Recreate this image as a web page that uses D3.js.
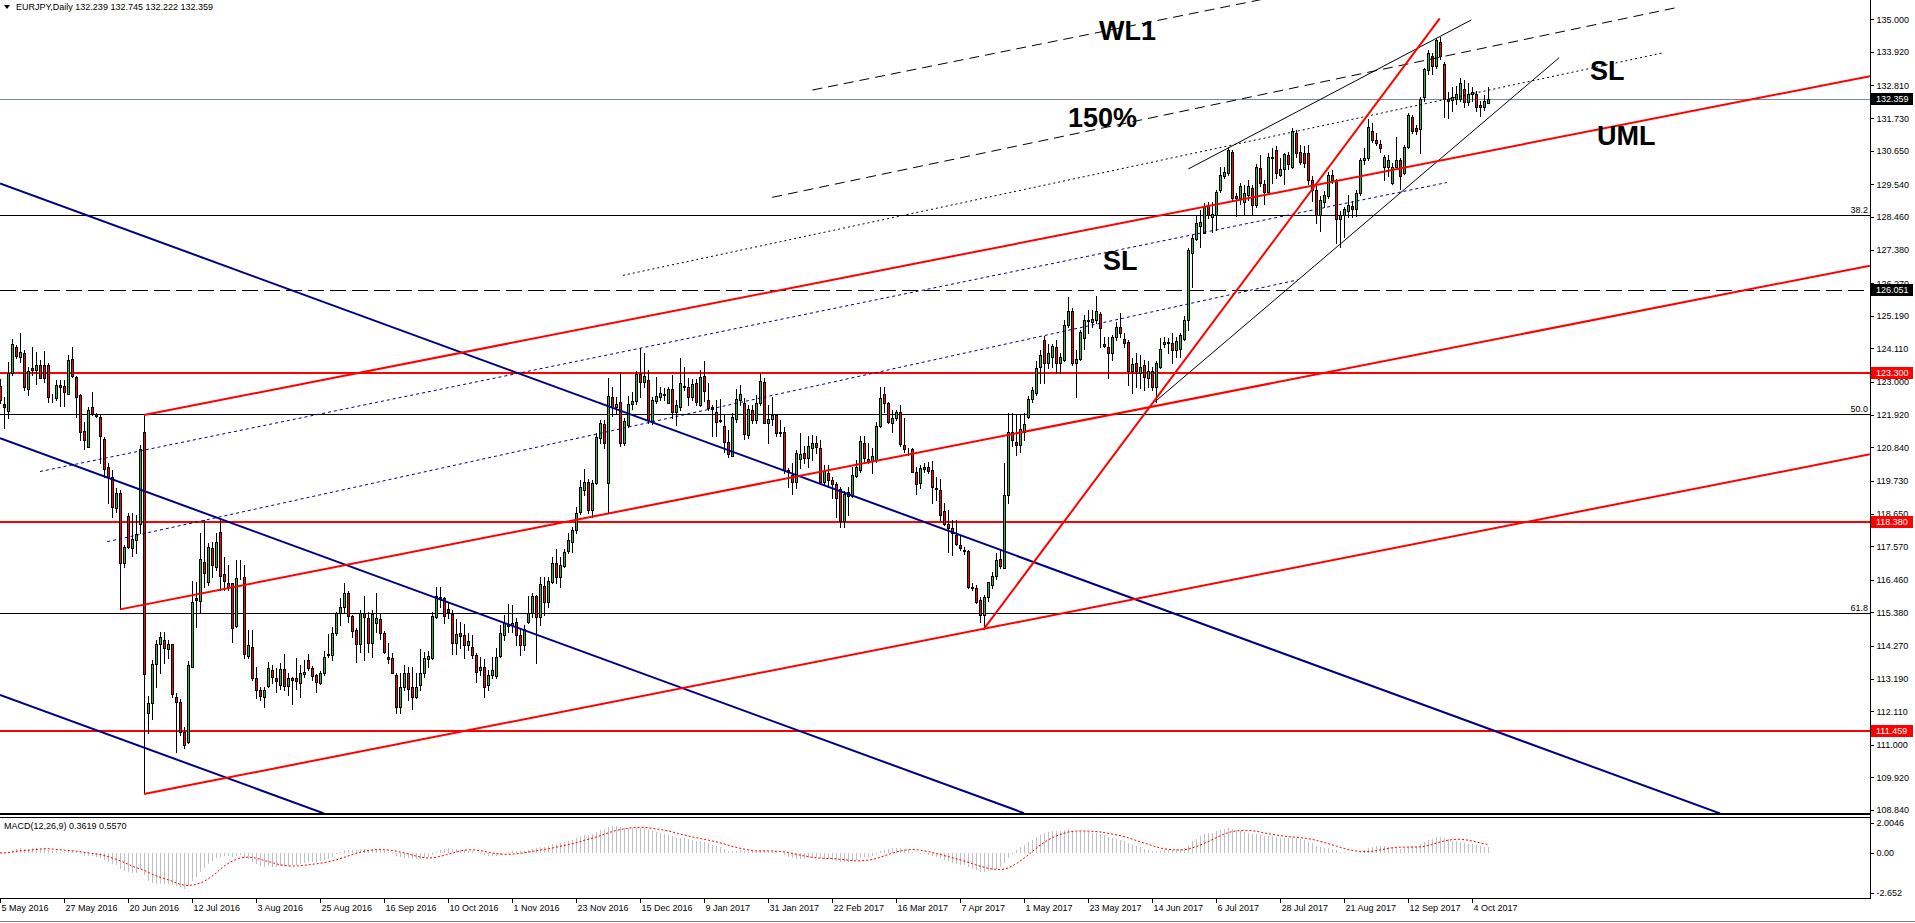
<!doctype html>
<html lang="en">
<head>
<meta charset="utf-8">
<title>EURJPY, Daily</title>
<style>
	body { margin: 0; background: #fff; }
	svg text { font-family: Tahoma, "Liberation Sans", Arial, sans-serif; font-size: 9px; fill: #000; }
	svg text.note { font-family: "Liberation Sans", Arial, sans-serif; font-size: 27px; font-weight: bold; }
	.tick line, .domain { stroke: #000; shape-rendering: crispEdges; }
	line { shape-rendering: crispEdges; }
	line.trend { shape-rendering: auto; }
	.wick { stroke: #000; }
	.body { stroke: #000; stroke-width: 1; shape-rendering: crispEdges; }
	.fib { stroke: #000; stroke-width: 1; }
	.redlvl { stroke: #ff0000; stroke-width: 2; }
	.last { stroke: #778899; stroke-width: 1; }
	.dashlvl { stroke: #000; stroke-width: 1; stroke-dasharray: 16,6; }
	.pf-red { stroke: #ff0000; stroke-width: 2; }
	.ch-blue { stroke: #000080; stroke-width: 2; }
	.dot-blue { stroke: #000080; stroke-width: 1; stroke-dasharray: 3,3; }
	.dash-black { stroke: #000; stroke-width: 1; stroke-dasharray: 10,6; }
	.dot-black { stroke: #000; stroke-width: 1; stroke-dasharray: 2,3; }
	.thin-black { stroke: #000; stroke-width: 1; }
	.steep-red { stroke: #ff0000; stroke-width: 2; }
</style>
</head>
<body>
<div id="viz"></div>

<script src="https://d3js.org/d3.v7.min.js"></script>
<script>

// daily bars, 5 May 2016 .. 10 Oct 2017, each row [open, high, low, close]
var ohlc = [
	// 0
	[122.87,123.10,122.30,122.40],[122.29,122.51,121.47,122.16],[122.05,123.67,121.80,123.29],[123.29,124.44,123.23,124.26],
	[124.17,124.22,123.78,123.86],[123.84,124.61,123.67,124.00],[123.97,124.06,122.74,122.85],[122.76,123.51,122.57,123.37],
	[123.45,124.17,123.23,123.40],[123.40,124.00,122.95,123.58],[123.58,123.73,123.12,123.15],[123.56,124.03,123.01,123.12],
	[123.56,123.64,122.35,122.51],[122.51,122.60,122.35,122.52],[122.46,123.07,122.40,122.90],[122.90,123.07,122.20,122.82],
	// 16
	[122.87,123.07,122.20,122.68],[122.62,123.89,122.60,123.73],[123.75,124.17,123.16,123.20],[123.16,123.20,121.85,122.51],
	[122.57,122.60,121.08,121.36],[121.38,121.69,120.80,121.08],[120.86,122.16,120.86,122.09],[122.16,122.68,121.91,121.94],
	[121.93,121.98,121.85,121.87],[121.85,121.91,120.31,121.21],[121.10,121.19,119.87,120.11],[120.20,120.31,118.99,119.87],
	[119.85,120.09,118.55,118.88],[118.82,119.48,118.71,119.34],[119.34,119.43,115.48,117.00],[117.00,117.61,116.89,117.53],
	// 32
	[118.58,118.66,117.50,117.55],[117.50,118.66,117.25,117.81],[117.77,118.60,117.33,117.96],[118.30,120.92,117.99,120.80],
	[121.34,121.92,109.43,113.34],[112.04,112.60,111.38,112.37],[112.37,113.80,111.87,113.66],[113.66,114.46,112.92,114.32],
	[114.32,114.74,113.36,114.57],[114.46,114.74,113.69,114.19],[114.16,114.46,113.86,114.32],[114.32,114.35,112.59,112.67],
	[112.59,112.70,110.77,112.43],[112.41,112.50,111.32,111.43],[111.43,111.60,110.88,110.99],[111.10,113.78,111.05,113.64],
	// 48
	[113.58,116.42,113.58,115.73],[115.85,116.40,114.90,115.80],[115.77,117.99,115.35,117.13],[117.06,118.43,116.23,116.67],
	[116.40,117.69,116.29,117.53],[117.50,117.72,116.56,116.95],[116.89,117.99,116.78,117.70],[118.03,118.43,116.12,116.58],
	[116.64,117.22,116.12,116.42],[116.34,116.95,116.12,116.23],[116.34,116.36,114.41,114.88],[114.93,117.11,114.90,116.53],
	[116.60,117.11,116.50,116.58],[116.56,116.95,113.86,113.99],[113.94,114.80,113.86,114.30],[114.25,114.80,113.15,113.20],
	// 64
	[113.20,113.58,112.54,112.81],[112.81,112.90,112.48,112.61],[112.59,112.92,112.26,112.81],[112.94,113.75,112.92,113.55],
	[113.47,113.64,113.03,113.25],[113.22,113.53,112.76,113.11],[112.98,113.69,112.85,113.50],[113.50,114.00,112.81,112.94],
	[112.94,113.36,112.65,113.20],[113.20,113.25,112.35,113.15],[113.20,113.86,112.85,113.10],[113.06,113.64,112.59,113.36],
	[113.34,113.80,113.25,113.42],[113.82,114.00,113.47,113.53],[113.53,113.60,113.15,113.28],[113.31,113.35,112.76,113.09],
	// 80
	[113.06,113.45,113.00,113.39],[113.39,114.11,113.30,113.92],[113.98,114.67,113.92,114.02],[113.97,114.91,113.80,114.69],
	[114.69,115.40,114.63,115.37],[115.35,115.84,114.96,115.55],[115.55,116.34,115.40,116.03],[116.03,116.10,115.07,115.27],
	[115.26,115.30,114.58,114.77],[114.80,114.85,113.75,114.33],[114.33,115.46,114.08,115.37],[115.35,115.92,113.80,115.24],
	[115.18,115.40,114.08,114.36],[114.38,115.46,113.89,115.33],[115.02,116.03,114.74,115.18],[115.15,115.37,114.49,114.71],
	// 96
	[114.71,114.75,114.03,114.08],[113.91,114.38,113.70,113.83],[113.86,114.03,113.36,113.39],[113.31,113.36,112.06,112.26],
	[112.26,113.36,112.06,112.92],[112.92,113.64,112.80,113.39],[113.36,113.58,112.48,112.83],[112.92,113.58,112.20,112.59],
	[112.59,113.36,112.54,112.90],[112.98,114.16,112.80,113.39],[113.36,114.08,113.25,113.86],[113.83,114.11,113.58,113.94],
	[113.86,115.40,113.83,115.27],[115.24,116.23,115.20,115.92],[115.90,116.23,115.57,115.85],[115.85,115.90,115.02,115.26],
	// 112
	[115.48,115.73,115.18,115.40],[115.33,115.46,114.00,114.38],[114.36,115.15,114.00,114.66],[114.69,115.07,114.19,114.60],
	[114.63,114.99,113.86,114.30],[114.30,114.69,114.14,114.44],[114.22,114.63,113.86,113.97],[113.97,114.03,113.09,113.42],
	[113.47,113.92,113.31,113.56],[113.58,113.83,112.59,112.92],[112.98,113.47,112.80,113.31],[113.31,113.92,113.20,113.47],
	[113.28,114.19,113.20,113.92],[113.94,114.96,113.91,114.69],[114.63,115.29,114.47,115.02],[115.00,115.66,114.74,114.93],
	// 128
	[114.96,115.62,114.74,115.02],[115.07,115.18,114.30,114.63],[114.63,114.85,113.97,114.30],[114.30,114.96,114.14,114.82],
	[115.07,115.92,115.02,115.35],[115.35,116.01,115.24,115.92],[115.92,115.95,113.70,115.24],[115.24,116.56,114.96,116.31],
	[116.25,116.56,115.29,115.73],[115.73,116.56,115.57,116.43],[116.40,117.20,116.34,117.03],[117.00,117.47,116.34,116.54],
	[116.54,117.20,116.23,116.95],[116.93,117.47,116.89,117.39],[117.42,117.99,117.36,117.77],[117.72,118.21,117.39,118.10],
	// 144
	[118.10,118.88,117.99,118.68],[118.71,119.76,118.63,119.52],[119.43,120.11,119.26,119.70],[119.70,119.78,118.66,118.76],
	[118.76,119.76,118.55,119.65],[119.65,121.30,119.62,121.19],[121.14,121.74,120.97,121.63],[121.61,121.74,120.81,120.97],
	[119.67,123.15,118.66,122.54],[122.49,122.85,121.88,122.16],[122.16,122.51,121.96,122.27],[122.35,123.34,120.88,120.99],
	[120.99,121.80,120.92,121.72],[121.58,122.54,121.52,122.29],[122.27,122.68,122.10,122.38],[122.38,123.37,122.29,123.26],
	// 160
	[123.26,124.11,122.49,123.01],[123.01,123.95,122.85,123.20],[123.07,123.40,121.64,121.75],[121.70,122.50,121.62,122.41],
	[122.38,123.16,122.30,122.54],[122.50,122.85,122.41,122.65],[122.58,122.80,122.41,122.59],[122.32,122.85,122.30,122.76],
	[122.76,123.24,121.80,122.02],[122.02,122.39,121.58,122.25],[122.17,123.79,122.06,122.98],[122.83,123.49,122.74,122.87],
	[122.83,123.13,122.25,122.50],[122.50,123.09,122.41,122.94],[122.96,123.09,122.25,122.35],[122.24,123.40,122.21,123.16],
	// 176
	[123.20,123.68,122.36,122.69],[122.39,122.96,122.08,122.13],[122.17,122.25,121.22,122.11],[122.02,122.41,121.20,121.69],
	[121.75,122.43,121.69,121.72],[121.55,121.95,120.70,121.01],[121.01,121.42,120.53,120.63],[120.57,121.97,120.57,121.84],
	[121.77,122.76,121.69,122.43],[122.41,122.90,122.24,122.61],[122.32,122.46,121.12,121.28],[121.25,122.24,121.14,122.11],
	[122.06,122.24,121.64,121.75],[121.75,122.57,121.64,122.30],[122.30,123.29,122.24,123.05],[122.99,123.13,121.64,121.66],
	// 192
	[121.64,122.24,120.98,121.77],[121.78,122.52,121.58,121.91],[121.91,121.95,121.20,121.31],[121.36,121.75,121.20,121.33],
	[121.36,121.50,120.00,120.10],[120.10,120.15,119.54,120.04],[119.93,120.32,119.30,119.71],[119.68,120.76,119.49,120.65],
	[120.45,121.31,120.15,120.63],[120.65,120.87,120.32,120.48],[120.48,121.22,120.18,120.87],[120.81,121.25,120.42,121.00],
	[121.00,121.20,120.65,120.85],[120.81,121.09,119.63,119.71],[119.68,120.26,119.60,120.06],[119.98,120.26,119.54,119.76],
	// 208
	[119.76,119.87,119.16,119.63],[119.63,119.68,118.55,119.16],[119.45,119.54,118.20,118.39],[118.39,119.38,118.22,119.30],
	[119.35,119.54,118.61,119.24],[119.24,120.20,119.21,119.93],[119.90,120.42,119.87,120.18],[120.10,121.20,120.04,121.06],
	[121.00,121.20,120.37,120.48],[120.45,121.00,120.32,120.40],[120.40,120.81,119.98,120.56],[120.43,121.69,120.37,121.55],
	[121.53,122.83,121.51,122.47],[122.61,122.85,122.02,122.32],[122.32,122.35,121.64,121.69],[121.66,122.08,121.36,121.80],
	// 224
	[121.80,122.08,121.75,122.02],[122.02,122.24,120.87,120.95],[120.92,121.80,120.70,120.78],[120.78,120.82,120.59,120.79],
	[120.78,120.81,120.04,120.04],[120.04,120.20,119.30,119.63],[119.65,120.26,119.49,120.15],[120.12,120.32,120.04,120.18],
	[120.20,120.34,119.98,120.07],[120.09,120.40,118.99,119.52],[119.49,119.87,119.10,119.46],[119.43,119.79,118.44,118.60],
	[118.75,118.99,118.27,118.31],[118.31,118.77,117.39,118.17],[118.17,118.44,117.28,118.00],[117.94,118.44,117.60,117.65],
	// 240
	[117.62,117.94,117.45,117.50],[117.45,117.55,117.30,117.40],[117.40,117.45,116.18,116.21],[116.23,116.35,116.12,116.20],
	[116.20,116.30,115.70,115.74],[115.80,115.90,115.05,115.30],[115.30,115.95,114.82,115.88],[115.88,116.40,115.75,116.37],
	[116.29,116.73,116.20,116.59],[116.59,117.34,116.49,117.12],[117.14,117.45,116.85,116.92],[116.84,120.31,116.84,119.27],
	[119.27,121.97,118.99,121.36],[121.36,121.97,120.87,121.08],[121.03,121.91,120.59,120.92],[120.92,121.91,120.70,121.44],
	// 256
	[121.36,121.97,121.08,121.61],[121.86,122.55,121.80,122.43],[122.43,122.85,122.35,122.74],[122.65,123.68,122.57,123.46],
	[123.51,124.06,122.96,123.90],[124.39,124.53,122.96,123.62],[123.64,124.26,123.46,123.97],[123.82,124.26,123.51,124.20],
	[124.17,124.39,123.29,123.64],[123.64,123.97,123.29,123.84],[123.73,125.06,123.68,124.89],[124.89,125.80,124.83,125.36],
	[125.36,125.44,123.57,123.62],[123.62,124.06,122.52,123.75],[123.75,124.72,123.73,124.66],[124.45,125.22,124.08,125.06],
	// 272
	[125.06,125.39,124.61,125.02],[125.00,125.39,124.83,125.08],[125.06,125.83,124.94,125.35],[125.25,125.33,124.15,124.78],
	[124.25,124.50,124.15,124.19],[124.17,124.50,123.13,123.95],[123.97,124.56,123.73,124.50],[124.50,125.00,124.39,124.83],
	[124.83,125.28,124.50,124.61],[124.41,124.61,124.17,124.30],[124.34,124.39,122.90,123.38],[123.38,123.79,122.63,123.60],
	[123.64,123.95,122.85,123.38],[123.31,123.90,122.79,123.49],[123.57,123.73,122.74,123.18],[123.13,123.68,122.85,123.35],
	// 288
	[123.35,123.51,122.74,122.85],[122.85,123.68,122.35,123.62],[123.51,124.45,123.46,124.08],[124.26,124.50,124.17,124.34],
	[124.30,124.45,123.95,124.34],[124.30,124.61,123.62,124.06],[124.06,124.50,123.84,124.37],[124.08,124.61,123.82,124.56],
	[124.42,125.17,124.39,125.06],[125.06,127.42,124.72,127.37],[127.28,127.87,126.16,127.76],[127.72,128.53,127.70,128.27],
	[128.16,128.69,127.48,128.30],[127.94,128.91,127.92,128.82],[128.86,128.97,128.42,128.53],[128.47,128.97,127.97,128.56],
	// 304
	[128.53,129.35,128.03,129.30],[129.35,130.13,129.30,129.85],[129.80,130.10,129.74,129.96],[129.90,130.79,129.85,130.66],
	[130.62,130.68,129.02,129.08],[129.16,129.24,128.49,129.08],[129.08,129.60,128.90,129.47],[128.97,129.52,128.53,129.25],
	[129.19,129.69,129.03,129.47],[129.41,129.52,128.53,128.86],[128.86,130.20,128.80,130.13],[130.07,130.50,129.47,129.58],
	[129.56,129.69,128.90,129.30],[129.30,130.57,129.25,130.46],[130.46,130.74,129.60,130.40],[130.68,130.80,129.75,129.90],
	// 320
	[129.85,130.40,129.80,130.04],[130.04,130.57,129.55,130.55],[130.50,130.62,130.05,130.20],[130.13,131.40,130.07,131.29],
	[131.23,131.34,130.46,130.59],[130.62,130.84,130.20,130.29],[130.59,130.80,130.10,130.26],[130.57,130.84,129.55,129.67],
	[129.69,129.80,128.98,129.36],[129.36,129.47,128.25,128.53],[128.53,129.14,128.01,129.03],[128.94,129.33,128.80,129.19],
	[129.14,129.96,129.08,129.85],[129.85,130.00,129.60,129.69],[129.69,129.71,127.61,128.39],[128.39,128.65,127.48,128.53],
	// 336
	[128.53,128.80,127.81,128.72],[128.67,129.20,128.45,128.86],[128.83,129.00,128.45,128.72],[128.72,129.36,128.50,129.25],
	[129.25,130.40,129.20,130.35],[130.35,130.75,130.20,130.42],[130.40,131.69,130.35,131.43],[131.32,131.56,130.95,131.01],
	[131.01,131.23,130.85,130.92],[130.88,131.00,130.62,130.74],[130.13,130.52,129.70,130.46],[130.13,130.50,129.80,130.35],
	[129.58,130.25,129.56,130.13],[130.13,131.10,130.10,130.35],[130.35,130.40,129.40,129.80],[129.91,130.85,129.89,130.76],
	// 352
	[130.76,131.90,130.74,131.84],[131.78,131.84,131.23,131.29],[131.40,131.50,131.20,131.29],[131.36,132.42,130.59,132.36],
	[132.42,133.40,132.30,133.35],[133.33,134.00,133.20,133.88],[133.79,133.90,133.20,133.44],[133.46,134.38,133.40,134.32],
	[134.26,134.40,133.70,133.79],[133.52,133.60,131.78,132.36],[132.36,132.60,131.73,132.31],[132.34,132.75,131.95,132.44],
	[132.36,132.80,132.20,132.53],[132.36,133.07,132.30,132.89],[132.69,133.00,132.10,132.28],[132.25,132.89,132.15,132.53],
	// 368
	[132.53,132.75,132.30,132.58],[132.53,132.62,131.98,132.11],[132.17,132.30,131.80,132.09],[132.09,132.50,132.00,132.31],
	[132.239,132.745,132.222,132.359]
];

// one label every 16 bars
var dateLabels = ["5 May 2016","27 May 2016","20 Jun 2016","12 Jul 2016","3 Aug 2016","25 Aug 2016","16 Sep 2016",
	"10 Oct 2016","1 Nov 2016","23 Nov 2016","15 Dec 2016","9 Jan 2017","31 Jan 2017","22 Feb 2017","16 Mar 2017",
	"7 Apr 2017","1 May 2017","23 May 2017","14 Jun 2017","6 Jul 2017","28 Jul 2017","21 Aug 2017","12 Sep 2017","4 Oct 2017"];

var priceTicks = [135.000,133.920,132.810,131.730,130.650,129.540,128.460,127.380,126.270,125.190,124.110,123.000,
	121.920,120.840,119.730,118.650,117.570,116.460,115.380,114.270,113.190,112.110,111.000,109.920,108.840];

var macdTicks = [2.0046, 0, -2.652];
var macdTickLabels = ["2.0046", "0.00", "-2.652"];

var redLevels = [123.300, 118.380, 111.459];
var fibLevels = [128.51, 121.93, 115.35];
var fibNames = ["38.2", "50.0", "61.8"];
var lastPrice = 132.359;
var dashLevel = 126.051;

// drawn objects in chart units: [bar1, price1, bar2, price2]
var pitchforkRed = [[36, 121.91, 467.5, 133.12], [30, 115.48, 467.5, 126.85], [36, 109.37, 467.5, 120.61]];
var channelBlue = [[0, 129.57, 430, 108.73], [0, 121.14, 256, 108.74], [0, 112.65, 81, 108.73]];
var dottedBlue = [[10, 120.04, 361.7, 129.60], [26.8, 117.72, 324.4, 126.38]];
var dashedBlack = [[203.1, 132.66, 316, 135.67], [193.05, 129.11, 419.6, 135.40]];
var dottedBlack = [[155.75, 126.53, 416.1, 133.90]];
var thinBlack = [[297.1, 130.05, 367.85, 134.98], [288.75, 122.35, 389.8, 133.73]];
var steepRed = [[245.8, 114.80, 359.95, 135.03]];

var noteText = ["WL1", "150%", "SL", "SL", "UML"];
var noteBar = [274.75, 267, 275.75, 397.5, 399.25];
var notePrice = [134.32, 131.44, 126.71, 132.99, 130.84];

var title = "EURJPY,Daily  132.239 132.745 132.222 132.359";
var macdTitle = "MACD(12,26,9) 0.3619 0.5570";

(function(d3) {

	var w = 1915, h = 923;
	var plotW = 1870, mainH = 814;
	var macdTop = 816.7, macdBot = 898.7;

	// SCALES
	var xScale = d3.scaleLinear().domain([0, 467.5]).range([0, plotW]);
	var yScale = d3.scaleLinear().domain([108.711, 135.638]).range([mainH, 0]);
	var mScale = d3.scaleLinear().domain([-2.652, 2.0046]).range([892.7, 822.7]);

	// MACD from the closes (EMA 12/26, SMA 9 signal as in MT4)
	var closes = ohlc.map(function(d) { return d[3]; });
	function ema(src, n) {
		var k = 2 / (n + 1), out = [src[0]];
		for (var i = 1; i < src.length; i++) out.push(out[i - 1] + k * (src[i] - out[i - 1]));
		return out;
	}
	var e12 = ema(closes, 12), e26 = ema(closes, 26);
	var macdMain = e12.map(function(v, i) { return v - e26[i]; });
	var macdSignal = macdMain.map(function(v, i) {
		return d3.mean(macdMain.slice(Math.max(0, i - 8), i + 1));
	});

	var svg = d3.select("#viz").append("svg")
		.attr("width", w)
		.attr("height", h);

	var defs = svg.append("defs");
	defs.append("clipPath").attr("id", "clipMain")
		.append("rect").attr("x", 0).attr("y", 0).attr("width", plotW).attr("height", mainH);
	defs.append("clipPath").attr("id", "clipMacd")
		.append("rect").attr("x", 0).attr("y", macdTop).attr("width", plotW).attr("height", macdBot - macdTop);

	var main = svg.append("g").attr("clip-path", "url(#clipMain)");

	// horizontal levels
	main.selectAll("line.fib").data(fibLevels).enter().append("line")
		.attr("class", "fib")
		.attr("x1", xScale.range()[0]).attr("x2", xScale.range()[1])
		.attr("y1", function(d) { return Math.round(yScale(d)) + 0.5; })
		.attr("y2", function(d) { return Math.round(yScale(d)) + 0.5; });

	main.append("line").attr("class", "dashlvl")
		.attr("x1", xScale.range()[0]).attr("x2", xScale.range()[1])
		.attr("y1", Math.round(yScale(dashLevel)) + 0.5).attr("y2", Math.round(yScale(dashLevel)) + 0.5);

	main.append("line").attr("class", "last")
		.attr("x1", xScale.range()[0]).attr("x2", xScale.range()[1])
		.attr("y1", Math.round(yScale(lastPrice)) + 0.5).attr("y2", Math.round(yScale(lastPrice)) + 0.5);

	main.selectAll("line.redlvl").data(redLevels).enter().append("line")
		.attr("class", "redlvl")
		.attr("x1", xScale.range()[0]).attr("x2", xScale.range()[1])
		.attr("y1", function(d) { return Math.round(yScale(d)); })
		.attr("y2", function(d) { return Math.round(yScale(d)); });

	// candles
	var candle = main.selectAll("g.candle").data(ohlc).enter().append("g").attr("class", "candle");
	candle.append("line").attr("class", "wick")
		.attr("x1", function(d, i) { return Math.round(xScale(i)) + 0.5; })
		.attr("x2", function(d, i) { return Math.round(xScale(i)) + 0.5; })
		.attr("y1", function(d) { return Math.round(yScale(d[1])); })
		.attr("y2", function(d) { return Math.round(yScale(d[2])) + 1; });
	candle.append("rect").attr("class", "body")
		.attr("x", function(d, i) { return Math.round(xScale(i)) - 0.5; })
		.attr("width", 2)
		.attr("y", function(d) { return Math.round(yScale(Math.max(d[0], d[3]))) + 0.5; })
		.attr("height", function(d) {
			return Math.max(0, Math.round(yScale(Math.min(d[0], d[3]))) - Math.round(yScale(Math.max(d[0], d[3]))));
		})
		.style("fill", function(d) { return d[3] >= d[0] ? "#32b432" : "#ff0000"; });

	// drawn objects
	function drawSet(rows, cls) {
		main.selectAll("line." + cls).data(rows).enter().append("line")
			.attr("class", cls + " trend")
			.attr("x1", function(d) { return xScale(d[0]); })
			.attr("y1", function(d) { return yScale(d[1]); })
			.attr("x2", function(d) { return xScale(d[2]); })
			.attr("y2", function(d) { return yScale(d[3]); });
	}
	drawSet(dottedBlue, "dot-blue");
	drawSet(dottedBlack, "dot-black");
	drawSet(dashedBlack, "dash-black");
	drawSet(thinBlack, "thin-black");
	drawSet(channelBlue, "ch-blue");
	drawSet(pitchforkRed, "pf-red");
	drawSet(steepRed, "steep-red");

	main.selectAll("text.note").data(noteText).enter().append("text")
		.attr("class", "note")
		.attr("x", function(d, i) { return xScale(noteBar[i]); })
		.attr("y", function(d, i) { return yScale(notePrice[i]); })
		.text(function(d) { return d; });

	// fibo captions
	svg.selectAll("text.fibname").data(fibLevels).enter().append("text")
		.attr("class", "fibname")
		.attr("x", plotW - 2)
		.attr("y", function(d) { return Math.round(yScale(d)) - 2; })
		.attr("text-anchor", "end")
		.text(function(d, i) { return fibNames[i]; });

	// MACD panel
	var macd = svg.append("g").attr("clip-path", "url(#clipMacd)");
	macd.selectAll("line.hist").data(macdMain).enter().append("line")
		.attr("class", "hist")
		.attr("x1", function(d, i) { return Math.round(xScale(i)) + 0.5; })
		.attr("x2", function(d, i) { return Math.round(xScale(i)) + 0.5; })
		.attr("y1", Math.round(mScale(0)))
		.attr("y2", function(d) { return Math.round(mScale(d)); })
		.style("stroke", "#c0c0c0");
	macd.append("path")
		.datum(macdSignal)
		.attr("d", d3.line().x(function(d, i) { return xScale(i); }).y(function(d) { return mScale(d); }))
		.style("fill", "none")
		.style("stroke", "#ff0000")
		.style("stroke-width", 1)
		.style("stroke-dasharray", "2,2");

	// frames
	svg.append("line").attr("x1", 0).attr("x2", plotW).attr("y1", mainH).attr("y2", mainH)
		.style("stroke", "#000").style("stroke-width", 2);
	svg.append("line").attr("x1", 0).attr("x2", plotW).attr("y1", macdTop + 0.3).attr("y2", macdTop + 0.3)
		.style("stroke", "#000");
	svg.append("line").attr("x1", 0).attr("x2", plotW).attr("y1", macdBot - 0.2).attr("y2", macdBot - 0.2)
		.style("stroke", "#000");
	svg.append("line").attr("x1", 0).attr("x2", w).attr("y1", 921.5).attr("y2", 921.5)
		.style("stroke", "#808080");
	svg.append("line").attr("x1", plotW + 0.5).attr("x2", plotW + 0.5).attr("y1", 0).attr("y2", macdBot)
		.style("stroke", "#000");

	// AXES
	var yAxis = d3.axisRight(yScale)
		.tickValues(priceTicks)
		.tickSize(3).tickSizeOuter(0).tickPadding(3)
		.tickFormat(d3.format(".3f"));
	var yAxisG = svg.append("g").attr("transform", "translate(" + (plotW + 0.5) + ",0)").call(yAxis);
	yAxisG.attr("font-size", null).attr("font-family", null);
	yAxisG.select(".domain").remove();

	var mAxis = d3.axisRight(mScale)
		.tickValues(macdTicks)
		.tickSize(3).tickSizeOuter(0).tickPadding(3)
		.tickFormat(function(d, i) { return macdTickLabels[i]; });
	var mAxisG = svg.append("g").attr("transform", "translate(" + (plotW + 0.5) + ",0)").call(mAxis);
	mAxisG.attr("font-size", null).attr("font-family", null);
	mAxisG.select(".domain").remove();

	var dateIdx = dateLabels.map(function(d, i) { return i * 16; });
	var xAxis = d3.axisBottom(xScale)
		.tickValues(dateIdx)
		.tickSize(4).tickSizeOuter(0)
		.tickFormat(function(d, i) { return dateLabels[i]; });
	var xAxisG = svg.append("g").attr("transform", "translate(0," + macdBot + ")").call(xAxis);
	xAxisG.attr("font-size", null).attr("font-family", null);
	xAxisG.select(".domain").remove();
	xAxisG.selectAll(".tick text").attr("text-anchor", "start").attr("x", 1).attr("y", 6);

	// price boxes on the axis
	var boxes = [lastPrice, dashLevel].concat(redLevels);
	var boxG = svg.selectAll("g.pbox").data(boxes).enter().append("g").attr("class", "pbox")
		.attr("transform", function(d) { return "translate(" + (plotW + 1) + "," + Math.round(yScale(d)) + ")"; });
	boxG.append("rect")
		.attr("x", 0).attr("y", -6).attr("width", 42).attr("height", 12)
		.style("fill", function(d, i) { return i < 2 ? "#000" : "#ff0000"; });
	boxG.append("text")
		.attr("x", 5).attr("dy", "0.35em")
		.style("fill", "#fff")
		.text(function(d) { return d3.format(".3f")(d); });

	// headers
	svg.append("path").attr("d", "M4,5L10,5L7,9Z").style("fill", "#000");
	svg.append("text").attr("x", 16).attr("y", 10).text(title);
	svg.append("text").attr("x", 4).attr("y", 829).text(macdTitle);

})(d3);

</script>
</body>
</html>
